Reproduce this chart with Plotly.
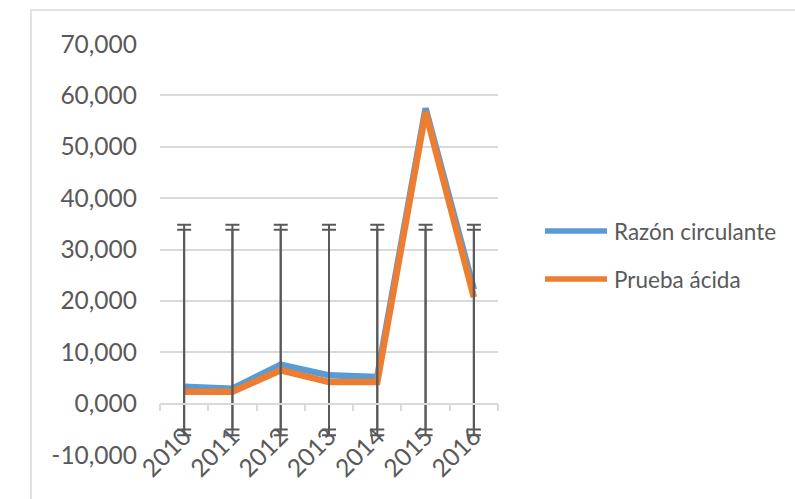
import numpy as np
import plotly.graph_objects as go

years = ["2010", "2011", "2012", "2013", "2014", "2015", "2016"]
razon_circulante = [3.3, 2.9, 7.6, 5.5, 5.2, 57.5, 22.2]
prueba_acida = [2.3, 2.3, 6.5, 4.2, 4.2, 56.8, 20.7]
series_names = ["Razón circulante", "Prueba ácida"]
y_tick_vals = [-10, 0, 10, 20, 30, 40, 50, 60, 70]
y_tick_labels = ["-10,000", "0,000", "10,000", "20,000", "30,000",
                 "40,000", "50,000", "60,000", "70,000"]

BLUE = "#5B9BD5"
ORANGE = "#ED7D31"
GRAY_TXT = "#595959"
GRID = "#D9D9D9"
FONT = "Lato"

fig = go.Figure()
for name, vals, col in [(series_names[0], razon_circulante, BLUE),
                        (series_names[1], prueba_acida, ORANGE)]:
    fig.add_trace(go.Scatter(x=years, y=vals, mode="lines", name=name,
                             line=dict(color=col, width=6.5),
                             showlegend=False))

# Excel-style standard deviation error bars (centred on series mean)
for vals in [razon_circulante, prueba_acida]:
    arr = np.array(vals, dtype=float)
    m = arr.mean()
    s = arr.std(ddof=1)
    fig.add_trace(go.Scatter(x=years, y=[m] * len(years), mode="markers",
                             marker=dict(color="rgba(0,0,0,0)", size=1),
                             error_y=dict(type="constant", value=s,
                                          color=GRAY_TXT, thickness=2,
                                          width=7),
                             showlegend=False, hoverinfo="skip"))

# legend drawn as shapes + text
W, H = 795, 499
L, R, T, B = 160, 297, 44, 44
pw, ph = W - L - R, H - T - B


def px_x(x):
    return (x - L) / pw


def px_y(y):
    return (H - B - y) / ph


for i, (name, col) in enumerate([(series_names[0], BLUE), (series_names[1], ORANGE)]):
    yc = 231 + 48 * i
    fig.add_shape(type="line", xref="paper", yref="paper",
                  x0=px_x(545), x1=px_x(607), y0=px_y(yc), y1=px_y(yc),
                  line=dict(color=col, width=5.5))
    fig.add_annotation(xref="paper", yref="paper", x=px_x(612), y=px_y(yc),
                       xanchor="left", yanchor="middle", text=name,
                       showarrow=False,
                       font=dict(family=FONT, size=22.5, color=GRAY_TXT))

# outer chart border
fig.add_shape(type="rect", xref="paper", yref="paper",
              x0=px_x(31), x1=px_x(900), y0=px_y(600), y1=px_y(10),
              line=dict(color=GRID, width=1.5), layer="below")

fig.update_layout(
    width=W, height=H,
    margin=dict(l=L, r=R, t=T, b=B),
    paper_bgcolor="white", plot_bgcolor="white",
    font=dict(family=FONT, size=24, color=GRAY_TXT),
    showlegend=False,
    xaxis=dict(type="category", range=[-0.5, 6.5], anchor="free",
               position=0.125, showgrid=False, showline=True,
               linecolor=GRID, linewidth=1.5, ticks="outside",
               tickson="boundaries", ticklen=7, tickcolor=GRID,
               tickwidth=1.5, tickangle=-45, ticklabelstandoff=8,
               tickfont=dict(family=FONT, size=24.5, color=GRAY_TXT)),
    yaxis=dict(range=[-10, 70], domain=[0, 1], tickmode="array",
               tickvals=y_tick_vals, ticktext=y_tick_labels,
               showgrid=True, gridcolor=GRID, gridwidth=1.5,
               zeroline=False, showline=False, ticks="",
               ticklabelstandoff=22,
               tickfont=dict(family=FONT, size=24.5, color=GRAY_TXT)),
)

fig.write_html("out.html")
